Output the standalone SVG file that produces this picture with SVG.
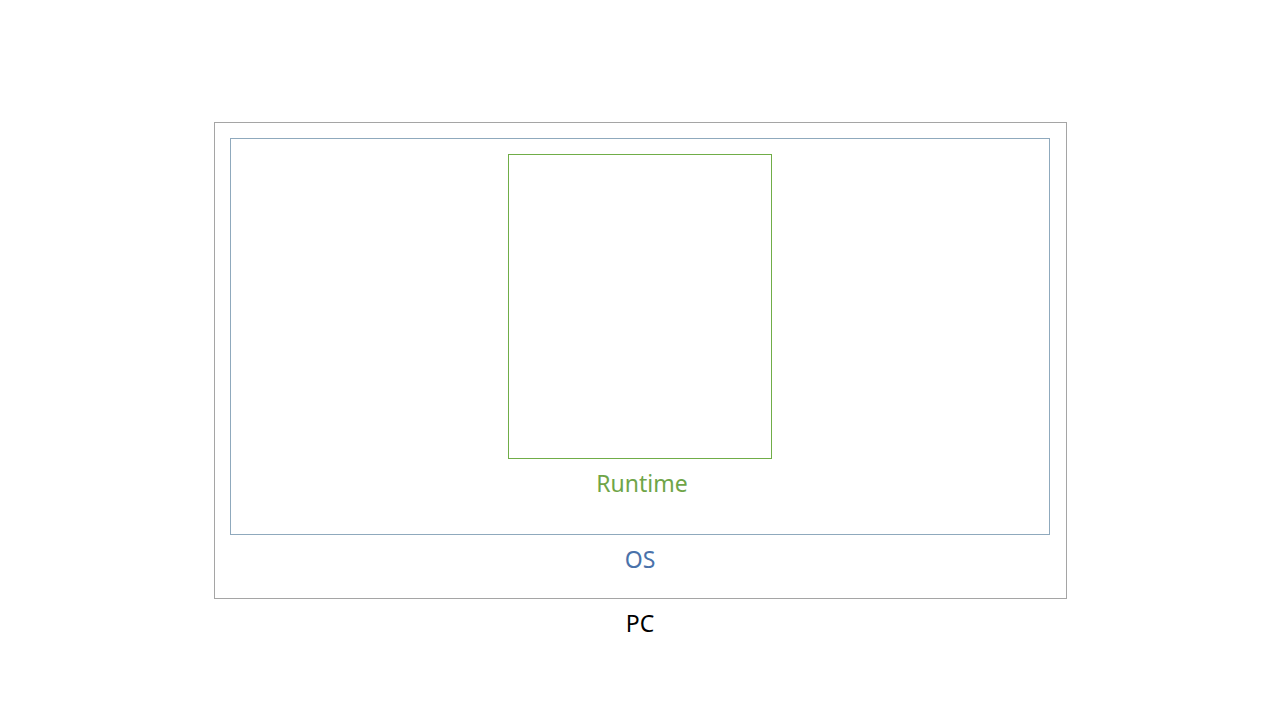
<svg xmlns="http://www.w3.org/2000/svg" width="1280" height="720" viewBox="0 0 1280 720">
<style>
.box{fill:none;stroke-width:1}
.lbl{font-family:"Noto Sans","Liberation Sans",sans-serif;font-size:23px;text-anchor:middle}
</style>
<rect width="1280" height="720" fill="#fff"/>
<g id="pc">
<rect class="box" x="214.5" y="122.5" width="852" height="476" stroke="#a5a5a5"/>
<text class="lbl" x="640" y="632" fill="#000">PC</text>
</g>
<g id="os">
<rect class="box" x="230.5" y="138.5" width="819" height="396" stroke="#8fa9bd"/>
<text class="lbl" x="640" y="568" fill="#4a72aa">OS</text>
</g>
<g id="runtime">
<rect class="box" x="508.5" y="154.5" width="263" height="304" stroke="#70ad47"/>
<text class="lbl" x="642" y="492" fill="#6fa548">Runtime</text>
</g>
<g id="connectors"/>
</svg>
